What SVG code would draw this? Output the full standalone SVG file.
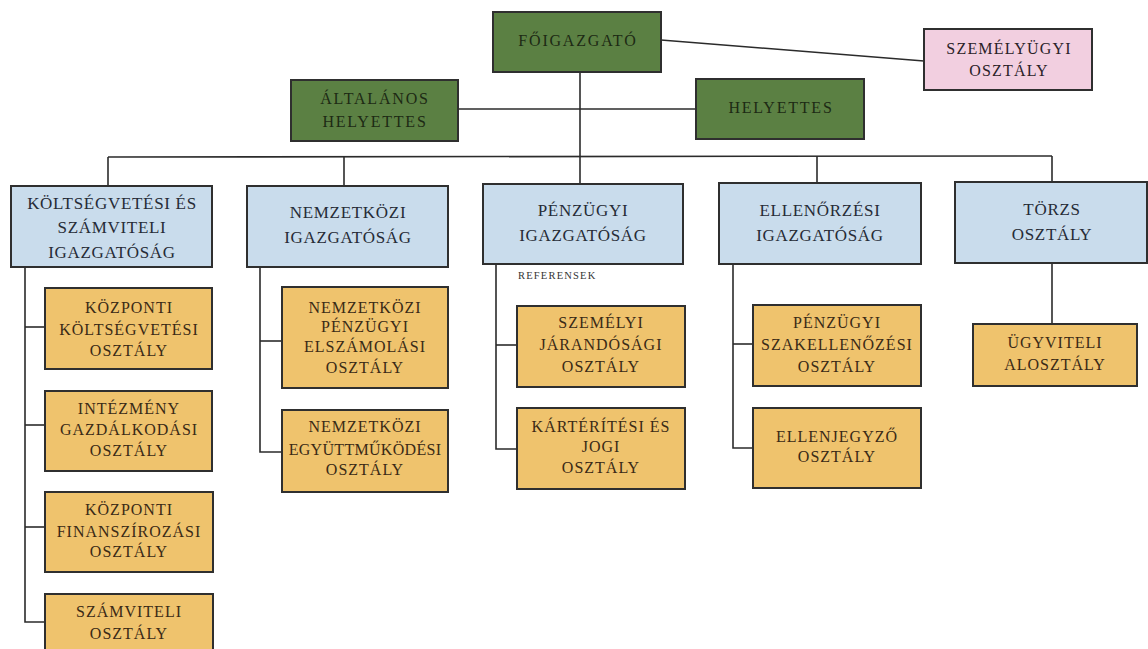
<svg xmlns="http://www.w3.org/2000/svg" width="1148" height="649" viewBox="0 0 1148 649">
  <style>
    .box { stroke: #2f2f2f; stroke-width: 2; }
    .green { fill: #5b8043; }
    .blue { fill: #c9dcec; }
    .gold { fill: #efc36d; }
    .pink { fill: #f2cfe0; }
    text { font-family: "Liberation Serif", "DejaVu Serif", serif; text-anchor: middle; }
    .tg { font-size: 16px; letter-spacing: 1.8px; fill: #1d2a14; }
    .tp { font-size: 16px; letter-spacing: 1.2px; fill: #2a2228; }
    .tb { font-size: 17px; letter-spacing: 0.7px; fill: #262b36; }
    .to { font-size: 16px; letter-spacing: 1px; fill: #3a2a16; }
    .note { font-size: 10.5px; letter-spacing: 1.2px; fill: #333; text-anchor: start; }
    .wire { stroke: #2b2b2b; stroke-width: 1.6; fill: none; }
  </style>
  <rect width="1148" height="649" fill="#ffffff"/>

  <!-- connectors -->
  <g id="connectors" class="wire">
    <line x1="661" y1="40" x2="924" y2="61"/>
    <line x1="458" y1="109" x2="696" y2="109"/>
    <line x1="580" y1="72" x2="580" y2="184"/>
    <line x1="108" y1="157" x2="1052" y2="156"/>
    <line x1="108" y1="157" x2="108" y2="186"/>
    <line x1="344" y1="157" x2="344" y2="186"/>
    <line x1="817" y1="156" x2="817" y2="183"/>
    <line x1="1052" y1="156" x2="1052" y2="182"/>
    <!-- budget & accounting directorate -->
    <polyline points="25,267 25,622 45,622"/>
    <line x1="25" y1="327" x2="45" y2="327"/>
    <line x1="25" y1="425" x2="45" y2="425"/>
    <line x1="25" y1="527" x2="45" y2="527"/>
    <!-- international directorate -->
    <polyline points="260,267 260,452 282,452"/>
    <line x1="260" y1="341" x2="282" y2="341"/>
    <!-- finance directorate -->
    <polyline points="496,264 496,449 517,449"/>
    <line x1="496" y1="345" x2="517" y2="345"/>
    <!-- audit directorate -->
    <polyline points="733,264 733,448 753,448"/>
    <line x1="733" y1="344" x2="753" y2="344"/>
    <!-- core department -->
    <line x1="1052" y1="263" x2="1052" y2="324"/>
  </g>

  <g id="foigazgato">
    <rect class="box green" x="493" y="12" width="168" height="60"/>
    <text class="tg" x="578" y="46">F&#x150;IGAZGATÓ</text>
  </g>
  <g id="altalanos-helyettes">
    <rect class="box green" x="291" y="80" width="167" height="61"/>
    <text class="tg" x="375" y="104">ÁLTALÁNOS</text>
    <text class="tg" x="375" y="127">HELYETTES</text>
  </g>
  <g id="helyettes">
    <rect class="box green" x="696" y="79" width="168" height="60"/>
    <text class="tg" x="781" y="113">HELYETTES</text>
  </g>
  <g id="szemelyugyi">
    <rect class="box pink" x="924" y="29" width="168" height="61"/>
    <text class="tp" x="1009" y="54">SZEMÉLYÜGYI</text>
    <text class="tp" x="1009" y="76">OSZTÁLY</text>
  </g>

  <g id="koltsegvetesi">
    <rect class="box blue" x="11" y="186" width="201" height="81"/>
    <text class="tb" x="112" y="209">KÖLTSÉGVETÉSI ÉS</text>
    <text class="tb" x="112" y="233">SZÁMVITELI</text>
    <text class="tb" x="112" y="258">IGAZGATÓSÁG</text>
  </g>
  <g id="nemzetkozi">
    <rect class="box blue" x="247" y="186" width="201" height="81"/>
    <text class="tb" x="348" y="218">NEMZETKÖZI</text>
    <text class="tb" x="348" y="243">IGAZGATÓSÁG</text>
  </g>
  <g id="penzugyi">
    <rect class="box blue" x="483" y="184" width="200" height="80"/>
    <text class="tb" x="583" y="216">PÉNZÜGYI</text>
    <text class="tb" x="583" y="241">IGAZGATÓSÁG</text>
    <text class="note" x="518" y="279">REFERENSEK</text>
  </g>
  <g id="ellenorzesi">
    <rect class="box blue" x="719" y="183" width="202" height="81"/>
    <text class="tb" x="820" y="216">ELLEN&#x150;RZÉSI</text>
    <text class="tb" x="820" y="241">IGAZGATÓSÁG</text>
  </g>
  <g id="torzs">
    <rect class="box blue" x="955" y="182" width="192" height="81"/>
    <text class="tb" x="1052" y="215">TÖRZS</text>
    <text class="tb" x="1052" y="240">OSZTÁLY</text>
  </g>

  <g id="kozponti-koltsegvetesi">
    <rect class="box gold" x="45" y="288" width="167" height="81"/>
    <text class="to" x="129" y="313">KÖZPONTI</text>
    <text class="to" x="129" y="335">KÖLTSÉGVETÉSI</text>
    <text class="to" x="129" y="356">OSZTÁLY</text>
  </g>
  <g id="intezmeny-gazdalkodasi">
    <rect class="box gold" x="45" y="391" width="167" height="80"/>
    <text class="to" x="129" y="414">INTÉZMÉNY</text>
    <text class="to" x="129" y="435">GAZDÁLKODÁSI</text>
    <text class="to" x="129" y="456">OSZTÁLY</text>
  </g>
  <g id="kozponti-finanszirozasi">
    <rect class="box gold" x="45" y="492" width="168" height="80"/>
    <text class="to" x="129" y="515">KÖZPONTI</text>
    <text class="to" x="129" y="537">FINANSZÍROZÁSI</text>
    <text class="to" x="129" y="557">OSZTÁLY</text>
  </g>
  <g id="szamviteli">
    <rect class="box gold" x="45" y="594" width="168" height="60"/>
    <text class="to" x="129" y="617">SZÁMVITELI</text>
    <text class="to" x="129" y="639">OSZTÁLY</text>
  </g>
  <g id="nemzetkozi-penzugyi">
    <rect class="box gold" x="282" y="287" width="166" height="101"/>
    <text class="to" x="365" y="313">NEMZETKÖZI</text>
    <text class="to" x="365" y="332">PÉNZÜGYI</text>
    <text class="to" x="365" y="352">ELSZÁMOLÁSI</text>
    <text class="to" x="365" y="373">OSZTÁLY</text>
  </g>
  <g id="nemzetkozi-egyuttmukodesi">
    <rect class="box gold" x="282" y="410" width="166" height="82"/>
    <text class="to" x="365" y="432">NEMZETKÖZI</text>
    <text class="to" x="365" y="455" style="letter-spacing:0.3px">EGYÜTTM&#x170;KÖDÉSI</text>
    <text class="to" x="365" y="475">OSZTÁLY</text>
  </g>
  <g id="szemelyi-jarandosagi">
    <rect class="box gold" x="517" y="306" width="168" height="81"/>
    <text class="to" x="601" y="328">SZEMÉLYI</text>
    <text class="to" x="601" y="350">JÁRANDÓSÁGI</text>
    <text class="to" x="601" y="372">OSZTÁLY</text>
  </g>
  <g id="karteritesi-jogi">
    <rect class="box gold" x="517" y="408" width="168" height="81"/>
    <text class="to" x="601" y="432">KÁRTÉRÍTÉSI ÉS</text>
    <text class="to" x="601" y="452">JOGI</text>
    <text class="to" x="601" y="473">OSZTÁLY</text>
  </g>
  <g id="penzugyi-szakellenozesi">
    <rect class="box gold" x="753" y="305" width="168" height="81"/>
    <text class="to" x="837" y="328">PÉNZÜGYI</text>
    <text class="to" x="837" y="350">SZAKELLEN&#x150;ZÉSI</text>
    <text class="to" x="837" y="372">OSZTÁLY</text>
  </g>
  <g id="ellenjegyzo">
    <rect class="box gold" x="753" y="408" width="168" height="80"/>
    <text class="to" x="837" y="442">ELLENJEGYZ&#x150;</text>
    <text class="to" x="837" y="462">OSZTÁLY</text>
  </g>
  <g id="ugyviteli">
    <rect class="box gold" x="973" y="324" width="164" height="62"/>
    <text class="to" x="1055" y="348">ÜGYVITELI</text>
    <text class="to" x="1055" y="370">ALOSZTÁLY</text>
  </g>
</svg>
